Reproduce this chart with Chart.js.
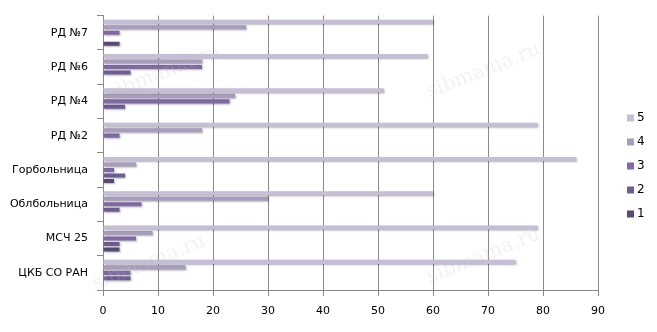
<!DOCTYPE html>
<html>
<head>
  <title>Роды по учреждениям</title>
  <style>
    body {
      margin: 0;
      background: #fff;
    }
    #wrap {
      width: 657px;
      height: 332px;
    }
  </style>
</head>
<body>
  <div id="wrap">
    <canvas id="chart" width="657" height="332"></canvas>
  </div>

  <script src="https://cdn.jsdelivr.net/npm/chart.js"></script>

  <script>
    // categories, top to bottom
    const labels = ['РД №7', 'РД №6', 'РД №4', 'РД №2', 'Горбольница', 'Облбольница', 'МСЧ 25', 'ЦКБ СО РАН'];

    // series
    const s5 = [60, 59, 51, 79, 86, 60, 79, 75];
    const s4 = [26, 18, 24, 18, 6, 30, 9, 15];
    const s3 = [3, 18, 23, 3, 2, 7, 6, 5];
    const s2 = [0, 5, 4, 0, 4, 3, 3, 5];
    const s1 = [3, 0, 0, 0, 2, 0, 3, 0];

    const seriesNames = ['5', '4', '3', '2', '1'];
    const seriesColors = ['#c5bed6', '#a99dbf', '#8069a5', '#6f5c94', '#594a75'];

    const xMax = 90;
    const xStep = 10;

    const gridGray = '#8a8a8a';
    const font = { family: 'DejaVu Sans', size: 11 };

    // soft shadow under the bars, like the original
    const barShadow = {
      id: 'barShadow',
      beforeDatasetsDraw(chart) {
        const ctx = chart.ctx;
        ctx.save();
        ctx.shadowColor = 'rgba(0,0,0,0.3)';
        ctx.shadowOffsetX = 1;
        ctx.shadowOffsetY = 1;
        ctx.shadowBlur = 2;
      },
      afterDatasetsDraw(chart) {
        chart.ctx.restore();
      }
    };

    // legend drawn by hand so the plot area keeps its width
    const sideLegend = {
      id: 'sideLegend',
      afterDraw(chart) {
        const ctx = chart.ctx;
        ctx.save();
        ctx.font = '12px "DejaVu Sans"';
        ctx.textBaseline = 'middle';
        chart.data.datasets.forEach((ds, i) => {
          const y = 118 + i * 24;
          ctx.fillStyle = ds.backgroundColor;
          ctx.fillRect(627, y - 3.5, 7, 7);
          ctx.fillStyle = '#000';
          ctx.fillText(ds.label, 637, y);
        });
        ctx.restore();
      }
    };

    // faint site watermark
    const watermark = {
      id: 'watermark',
      afterDraw(chart) {
        const ctx = chart.ctx;
        ctx.save();
        ctx.font = '20px "DejaVu Serif"';
        ctx.fillStyle = 'rgba(190,190,190,0.2)';
        [[110, 100], [430, 98], [95, 290], [430, 283]].forEach(p => {
          ctx.save();
          ctx.translate(p[0], p[1]);
          ctx.rotate(-0.38);
          ctx.fillText('sibmama.ru', 0, 0);
          ctx.restore();
        });
        ctx.restore();
      }
    };

    const ctx = document.getElementById('chart').getContext('2d');
    new Chart(ctx, {
      type: 'bar',
      data: {
        labels: labels,
        datasets: [s5, s4, s3, s2, s1].map((d, i) => ({
          label: seriesNames[i],
          data: d,
          backgroundColor: seriesColors[i],
          borderWidth: 0,
          categoryPercentage: 0.8,
          barPercentage: 0.74
        }))
      },
      options: {
        indexAxis: 'y',
        responsive: false,
        animation: false,
        layout: {
          padding: { top: 12, right: 59, left: 0, bottom: 0 }
        },
        plugins: {
          legend: { display: false },
          tooltip: { enabled: false }
        },
        scales: {
          x: {
            min: 0,
            max: xMax,
            ticks: {
              stepSize: xStep,
              color: '#000',
              font: font,
              padding: 9
            },
            grid: {
              color: gridGray,
              tickColor: gridGray,
              tickLength: 6,
              lineWidth: 1
            },
            border: { color: gridGray },
            afterFit(scale) { scale.height = 42; }
          },
          y: {
            ticks: {
              color: '#000',
              font: font,
              padding: 9
            },
            grid: {
              offset: true,
              drawOnChartArea: false,
              tickColor: gridGray,
              tickLength: 6
            },
            border: { color: gridGray },
            afterFit(scale) { scale.width = 103; }
          }
        }
      },
      plugins: [barShadow, sideLegend, watermark]
    });
  </script>
</body>
</html>
